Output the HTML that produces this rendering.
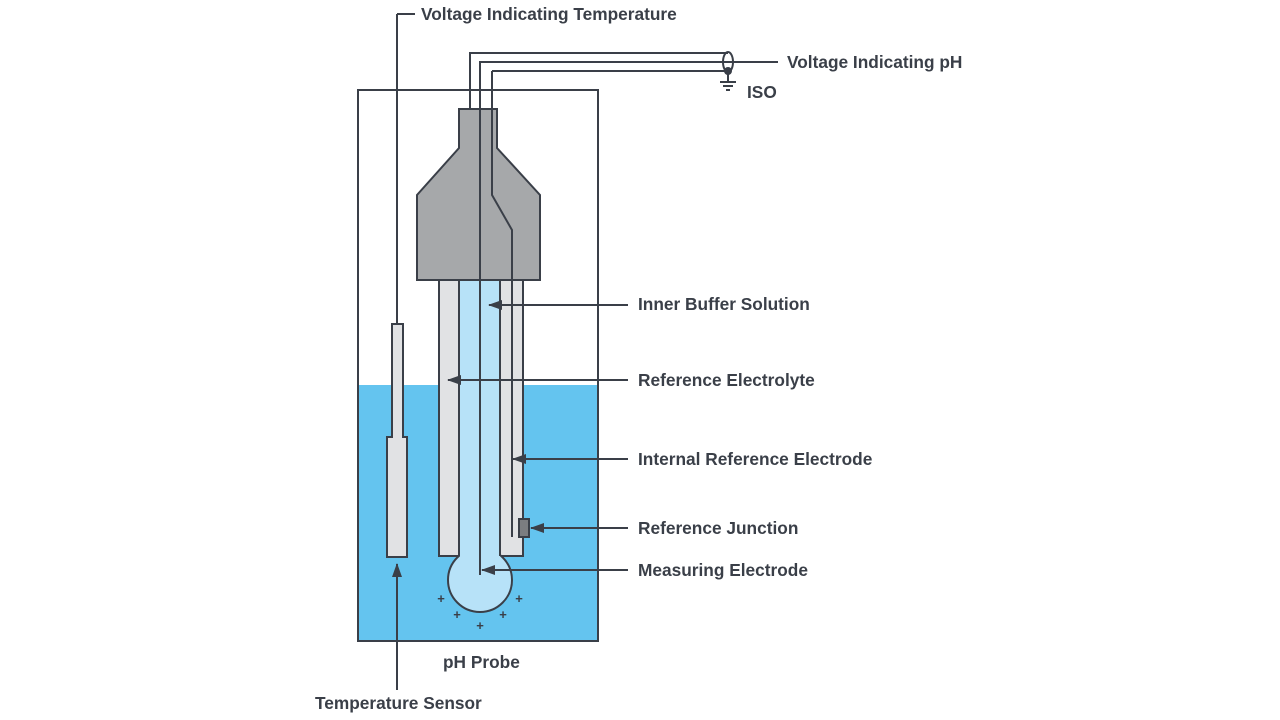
<!DOCTYPE html>
<html><head><meta charset="utf-8"><style>
html,body{margin:0;padding:0;background:#fff;}
svg{display:block}
text{font-family:"Liberation Sans",sans-serif;font-weight:bold;font-size:17.3px;fill:#3a3f48;}
</style></head><body>
<svg width="1280" height="720" viewBox="0 0 1280 720" xmlns="http://www.w3.org/2000/svg">
<defs>
<marker id="ah" markerWidth="14" markerHeight="10" refX="13" refY="5" orient="auto" markerUnits="userSpaceOnUse">
<path d="M0,0 L14,5 L0,10 Z" fill="#3a3f48"/>
</marker>
</defs>
<g stroke="#3a3f48" stroke-width="2" fill="none">
<rect x="358" y="385" width="240" height="256" fill="#64c4ef" stroke="none"/>
<rect x="358" y="90" width="240" height="551"/>
<line x1="397" y1="14" x2="397" y2="324"/>
<line x1="397" y1="14" x2="415" y2="14"/>
<path d="M392,324 H403 V437 H407 V557 H387 V437 H392 Z" fill="#e1e2e4"/>
<rect x="439" y="280" width="84" height="276" fill="#e1e2e4"/>
<circle cx="480" cy="580" r="32" fill="#b7e2f8"/>
<rect x="460" y="280" width="40" height="280" fill="#b7e2f8" stroke="none"/>
<line x1="459" y1="280" x2="459" y2="556"/>
<line x1="500" y1="280" x2="500" y2="556"/>
<path d="M459,109 H497 V148 L540,195 V280 H417 V195 L459,148 Z" fill="#a6a8aa"/>
<path d="M470,109 V53 H728"/>
<path d="M480,575 V62 H778"/>
<path d="M492,71 H728 M492,71 V195 L512,230 V537"/>
<ellipse cx="728" cy="62" rx="5" ry="10"/>
<circle cx="728" cy="71" r="3" fill="#3a3f48"/>
<line x1="728" y1="71" x2="728" y2="81"/>
<line x1="720" y1="82" x2="736" y2="82"/>
<line x1="723" y1="86" x2="733" y2="86"/>
<line x1="726" y1="90" x2="730" y2="90"/>
<rect x="519" y="519" width="10" height="18" fill="#7b7d80"/>
<line x1="628" y1="305" x2="489" y2="305" marker-end="url(#ah)"/>
<line x1="628" y1="380" x2="448" y2="380" marker-end="url(#ah)"/>
<line x1="628" y1="459" x2="513" y2="459" marker-end="url(#ah)"/>
<line x1="628" y1="528" x2="531" y2="528" marker-end="url(#ah)"/>
<line x1="628" y1="570" x2="482" y2="570" marker-end="url(#ah)"/>
<line x1="397" y1="690" x2="397" y2="564" marker-end="url(#ah)"/>
</g>
<g text-anchor="middle">
<text x="441" y="603" style="font-size:13px">+</text>
<text x="519" y="603" style="font-size:13px">+</text>
<text x="457" y="619" style="font-size:13px">+</text>
<text x="503" y="619" style="font-size:13px">+</text>
<text x="480" y="630" style="font-size:13px">+</text>
</g>
<text x="421" y="20">Voltage Indicating Temperature</text>
<text x="787" y="68">Voltage Indicating pH</text>
<text x="747" y="98">ISO</text>
<text x="638" y="310">Inner Buffer Solution</text>
<text x="638" y="386">Reference Electrolyte</text>
<text x="638" y="465">Internal Reference Electrode</text>
<text x="638" y="534">Reference Junction</text>
<text x="638" y="576">Measuring Electrode</text>
<text x="443" y="668">pH Probe</text>
<text x="315" y="709">Temperature Sensor</text>
</svg>
</body></html>
